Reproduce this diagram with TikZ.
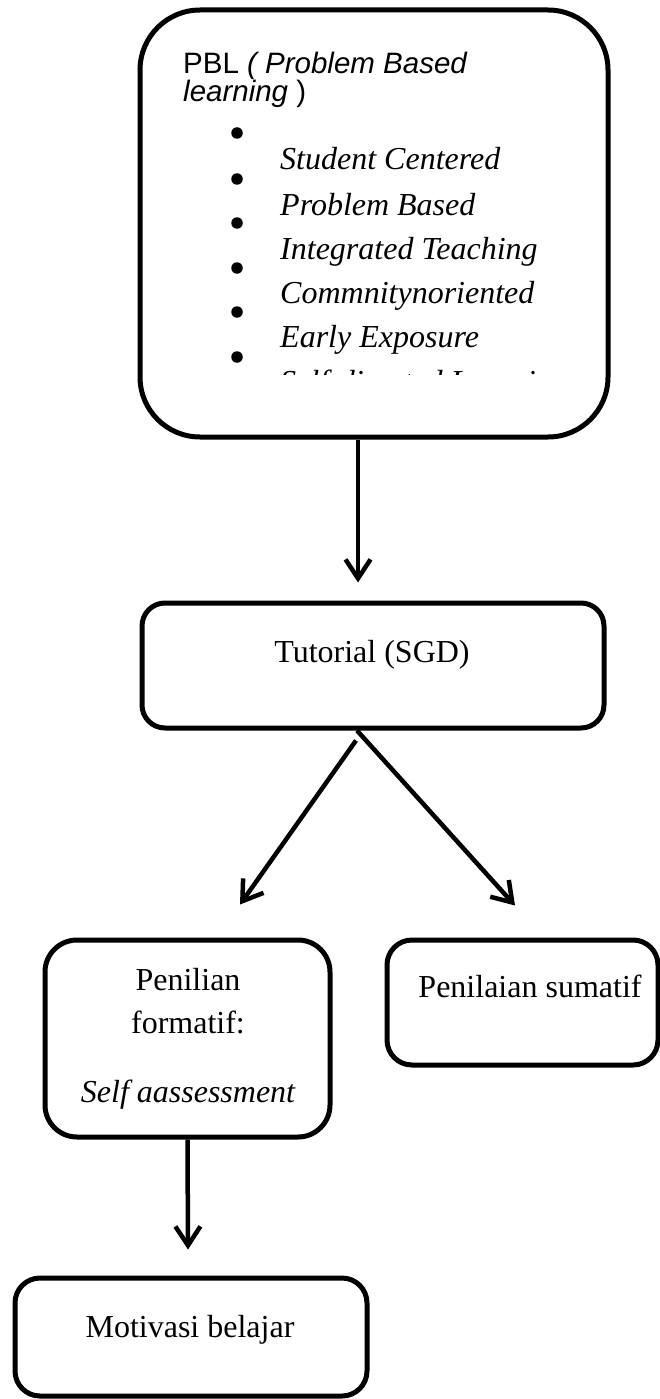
\documentclass[tikz,border=0pt]{standalone}
\usepackage{fontspec}
\setmainfont{Liberation Serif}
\newfontfamily\arialfont{Liberation Sans}
\usetikzlibrary{arrows.meta}
\begin{document}
\begin{tikzpicture}[x=1pt,y=-1pt,
  box/.style={draw=black, line width=5pt, rounded corners=#1, inner sep=0pt, fill=none},
  conn/.style={line width=4.5pt, -{Straight Barb[length=19pt,width=25pt]}},
  lbl/.style={inner sep=0pt, font=\fontsize{32}{32}\selectfont},
  itm/.style={inner sep=0pt, anchor=base west, font=\fontsize{32}{32}\selectfont\itshape},
  pbl/.style={inner sep=0pt, anchor=base west, font=\fontsize{29.5}{28}\selectfont\arialfont},
  dot/.style={circle, fill=black, inner sep=0pt, minimum size=11.5pt}
]
\useasboundingbox (0,0) rectangle (660,1399);
\fill[white] (0,0) rectangle (660,1399);

% boxes
\node[box=60pt, minimum width=468pt, minimum height=427pt] (top) at (374,223.5) {};
\node[box=23pt, minimum width=462pt, minimum height=125pt] (tut) at (373,665.5) {};
\node[box=32pt, minimum width=285pt, minimum height=197pt] (form) at (187.5,1038.5) {};
\node[box=25pt, minimum width=271pt, minimum height=125pt] (sum) at (522.5,1002.5) {};
\node[box=25pt, minimum width=352pt, minimum height=118pt] (mot) at (191,1337) {};

% top box text
\node[pbl] (pbl1) at (183,74) {PBL \textit{( Problem Based}};
\node[pbl] (pbl2) at (183,102) {\textit{learning} )};
\node[dot] (b1) at (237,133) {};
\node[dot] (b2) at (237,179) {};
\node[dot] (b3) at (237,223) {};
\node[dot] (b4) at (237,268) {};
\node[dot] (b5) at (237,312) {};
\node[dot] (b6) at (237,357) {};
\node[itm] (i1) at (280,170) {Student Centered};
\node[itm] (i2) at (280,215) {Problem Based};
\node[itm] (i3) at (280,259) {Integrated Teaching};
\node[itm] (i4) at (280,303) {Commnitynoriented};
\node[itm] (i5) at (280,347) {Early Exposure};
\begin{scope}
  \clip (260,355) rectangle (600,374);
  \node[itm] (i6) at (280,392) {Self-directed Learning};
\end{scope}

% other labels
\node[lbl, anchor=base] (tutt) at (372,662) {Tutorial (SGD)};
\node[lbl, anchor=base] (ft1) at (188,990) {Penilian};
\node[lbl, anchor=base] (ft2) at (188,1033) {formatif:};
\node[lbl, anchor=base, font=\fontsize{32}{32}\selectfont\itshape] (ft3) at (188,1102) {Self aassessment};
\node[lbl, anchor=base] (sumt) at (530,997) {Penilaian sumatif};
\node[lbl, anchor=base] (mott) at (190,1337) {Motivasi belajar};

% connectors
\draw[conn] ([xshift=-16pt]top.south) -- ([xshift=-15pt,yshift=18pt]tut.north);
\draw[conn] ([xshift=-17pt,yshift=-10pt]tut.south) -- ([xshift=52.5pt,yshift=33pt]form.north);
\draw[conn] ([xshift=-16pt]tut.south) -- ([xshift=-7.5pt,yshift=32pt]sum.north);
\draw[conn] (form.south) -- ([xshift=-3pt,yshift=26pt]mot.north);
\end{tikzpicture}
\end{document}
